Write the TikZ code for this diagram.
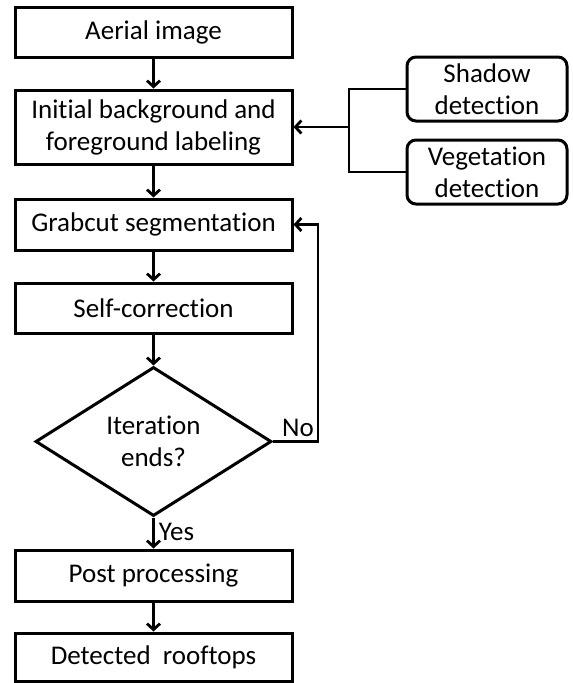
\documentclass[tikz,border=0pt]{standalone}
\usepackage{fontspec}
\setmainfont{Carlito}[Ligatures=NoCommon]
\usetikzlibrary{shapes.geometric,arrows.meta}
\begin{document}
\begin{tikzpicture}[x=1pt,y=-1pt,
  every node/.style={font=\fontsize{27}{32}\selectfont, inner sep=0pt},
  mainbox/.style={draw, line width=3pt, minimum width=277pt, align=center},
  sidebox/.style={draw, line width=3pt, rounded corners=9pt, minimum width=160pt, minimum height=64pt, align=center},
  decbox/.style={draw, line width=3pt, diamond, shape aspect=1.58, minimum width=236pt, minimum height=149pt, align=center},
  conn/.style={line width=2.8pt, -{Straight Barb[length=6pt,width=13pt,line width=2.8pt]}},
  plain/.style={line width=2.8pt}
]
\useasboundingbox (0,0) rectangle (573,683);
\node[mainbox, minimum height=50pt] (aerial) at (153.5,32) {Aerial image};
\node[mainbox, minimum height=74pt] (init) at (153.5,127) {Initial background and\\foreground labeling};
\node[mainbox, minimum height=51pt] (grab) at (153.5,224.5) {Grabcut segmentation};
\node[mainbox, minimum height=50pt] (self) at (153.5,308) {Self-correction};
\node[decbox] (iter) at (153.5,441.5) {Iteration\\ends?};
\node[mainbox, minimum height=51pt] (post) at (153.5,575.5) {Post\ processing};
\node[mainbox, minimum height=48pt] (det) at (153.5,657) {Detected\ \ rooftops};
\node[sidebox] (shadow) at (487,89) {Shadow\\detection};
\node[sidebox] (veg) at (487,172) {Vegetation\\detection};
\coordinate (br) at (349,127);
\coordinate (fb) at (318,441.5);
\draw[conn] (aerial) -- (init);
\draw[conn] (init) -- (grab);
\draw[conn] (grab) -- (self);
\draw[conn] (self) -- (iter);
\draw[conn] (iter) -- node[right=4pt, pos=0.45] {Yes} (post);
\draw[conn] (post) -- (det);
\draw[plain] (shadow.west) -| (br |- veg.west) -- (veg.west);
\draw[conn] (br) -- (init.east |- br);
\draw[conn] (iter.east) -- (fb) |- (grab.east);
\node[anchor=south east] (no) at (314,437) {No};
\end{tikzpicture}
\end{document}
